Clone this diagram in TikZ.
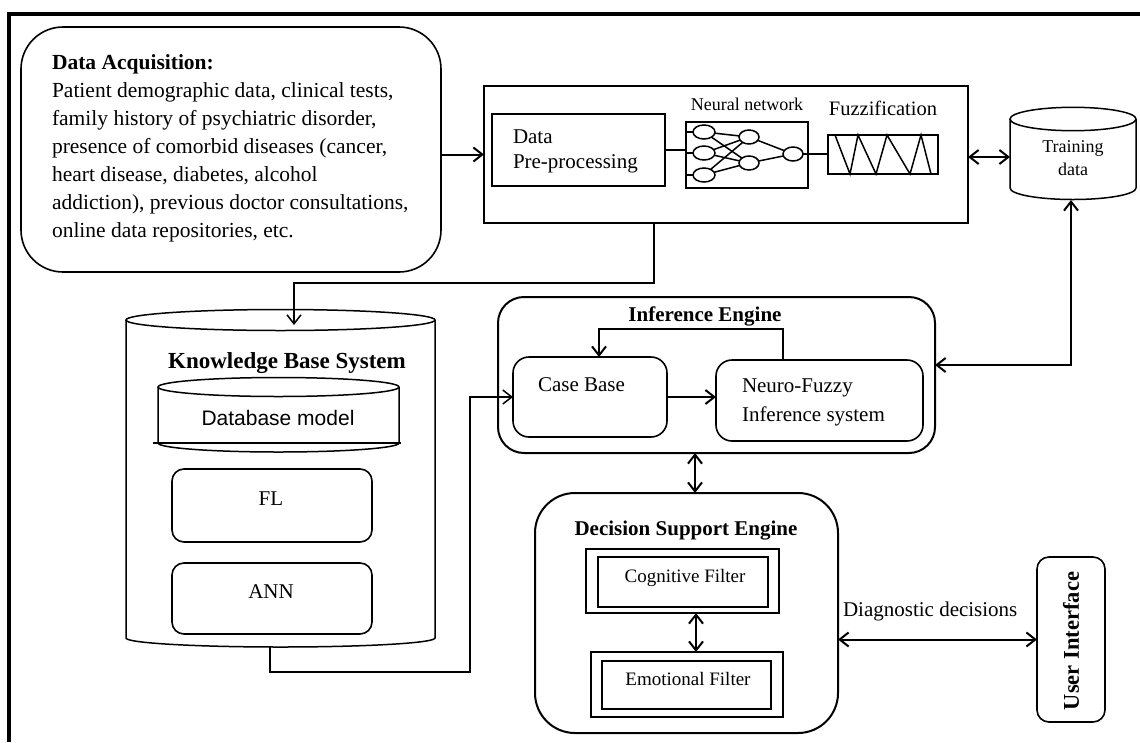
\documentclass[tikz,border=0pt]{standalone}
\usepackage{fontspec}
\setmainfont{Liberation Serif}
\setsansfont{Liberation Sans}
\usetikzlibrary{arrows.meta,shapes.geometric}

\begin{document}
\begin{tikzpicture}[x=1pt,y=-1pt,
  font=\fontsize{21}{28}\selectfont,
  >={Straight Barb[length=9pt,width=14pt]},
  every node/.style={inner sep=0pt,outer sep=0pt},
  box/.style={draw,line width=1.6pt,anchor=north west},
  rbox/.style={box,rounded corners=#1},
  hidden/.style={anchor=north west},
  neu/.style={draw,ellipse,line width=1.5pt,minimum width=21pt,minimum height=14pt},
  link/.style={line width=2pt},
  route/.style={line width=1.5pt},
  heading/.style={font=\bfseries\fontsize{21}{28}\selectfont,anchor=base},
]
\useasboundingbox (0,0) rectangle (1140,742);

% outer frame (top and left edges)
\draw[line width=3.2pt] (9,742) -- (9,14) -- (1140,14);

% ---------- data acquisition ----------
\node[rbox=42,minimum width=420pt,minimum height=245pt] (da) at (21,27) {};
\node[anchor=north west,align=left,font=\fontsize{21.5}{28}\selectfont] (datxt) at (52,54.5)
  {\textbf{Data Acquisition:}\\
   Patient demographic data, clinical tests,\\
   family history of psychiatric disorder,\\
   presence of comorbid diseases (cancer,\\
   heart disease, diabetes, alcohol\\
   addiction), previous doctor consultations,\\
   online data repositories, etc.};

% ---------- pre-processing block ----------
\node[box,minimum width=484pt,minimum height=137pt] (pp) at (484,86) {};
\node[box,minimum width=173pt,minimum height=72pt] (pre) at (492,114) {};
\node[anchor=north west,align=left,font=\fontsize{21}{25}\selectfont] (pretxt) at (513,130)
  {Data\\Pre-processing};

% neural network
\node[box,line width=2pt,minimum width=122pt,minimum height=66pt] (nn) at (686,122) {};
\node[anchor=base,font=\fontsize{18}{22}\selectfont] (nnlbl) at (747,110) {Neural network};
\node[neu,minimum width=22pt] (i1) at (704,132) {};
\node[neu,minimum width=22pt] (i2) at (704,153) {};
\node[neu,minimum width=22pt] (i3) at (704,175) {};
\node[neu,minimum width=20pt] (h1) at (749,137) {};
\node[neu,minimum width=20pt] (h2) at (749,163) {};
\node[neu,minimum width=20pt] (o) at (793,154) {};
\foreach \n in {i1,i2,i3} \draw[route] (nn.west |- \n) -- (\n);
\foreach \a in {i1,i2,i3} \foreach \b in {h1,h2} \draw[route] (\a) -- (\b);
\draw[route] (h1) -- (o);
\draw[route] (h2) -- (o);

% fuzzification
\node[box,minimum width=110pt,minimum height=39pt] (fz) at (828,135) {};
\node[anchor=base,font=\fontsize{20.5}{25}\selectfont] (fzlbl) at (883,115) {Fuzzification};
\draw[line width=1.5pt] (835,135) -- (850,174) -- (858,135) -- (876,174) -- (887,135)
  -- (910,174) -- (921,135) -- (931,174);

\draw[route] (pre.east) -- (pre.east -| nn.west);
\draw[route] (o) -- (o -| fz.west);

% ---------- training data store ----------
\node[hidden,minimum width=126pt,minimum height=86pt] (td) at (1010,114) {};
\draw[line width=1.5pt] (1010,119) -- (1010,188)
  arc[start angle=180,end angle=0,x radius=63,y radius=11.5] -- (1136,119);
\draw[line width=1.5pt] (1073,119) ellipse[x radius=63,y radius=11.7];
\node[anchor=north,align=center,font=\fontsize{18}{23}\selectfont] (tdtxt) at (1073,140.7)
  {Training\\data};

% ---------- knowledge base ----------
\node[hidden,minimum width=309pt,minimum height=322pt] (kb) at (126,325) {};
\draw[line width=1.5pt] (126,320) -- (126,638)
  arc[start angle=180,end angle=0,x radius=154.5,y radius=9] -- (435,320);
\draw[line width=1.5pt] (280.5,320) ellipse[x radius=154.5,y radius=10.5];
\node[heading,font=\bfseries\fontsize{23}{28}\selectfont] (kbtxt) at (287,368) {Knowledge Base System};

% database model
\draw[line width=1.5pt] (158,387) -- (158,443)
  arc[start angle=180,end angle=0,x radius=120.5,y radius=9] -- (399,387);
\draw[line width=1.5pt] (278.5,387) ellipse[x radius=120.5,y radius=9.5];
\draw[line width=1.5pt] (153,443) -- (401,443);
\node[anchor=base,font=\sffamily\fontsize{21}{25}\selectfont] (dbtxt) at (278,425) {Database model};

\node[rbox=12,minimum width=200pt,minimum height=73pt] (fl) at (172,469) {};
\node[anchor=base] (fltxt) at (271,505) {FL};
\node[rbox=12,minimum width=200pt,minimum height=71pt] (ann) at (172,563) {};
\node[anchor=base] (anntxt) at (271,598) {ANN};

% ---------- inference engine ----------
\node[rbox=26,line width=2pt,minimum width=437pt,minimum height=156pt] (ie) at (498,297) {};
\node[heading] (ietxt) at (705,321) {Inference Engine};
\node[rbox=16,minimum width=154pt,minimum height=80pt] (cb) at (513,357) {};
\node[anchor=base west] (cbtxt) at (538,391) {Case Base};
\node[rbox=16,minimum width=207pt,minimum height=81pt] (nf) at (716,360) {};
\node[anchor=north west,align=left,font=\fontsize{21}{29}\selectfont] (nftxt) at (742,379)
  {Neuro-Fuzzy\\Inference system};

% ---------- decision support engine ----------
\node[rbox=40,line width=2pt,minimum width=303pt,minimum height=240pt] (dse) at (535,493) {};
\node[heading] (dsetxt) at (686,535) {Decision Support Engine};
\node[box,minimum width=193pt,minimum height=64pt] (cog) at (586,549) {};
\node[box,minimum width=170pt,minimum height=50pt] (cogin) at (598,557) {};
\node[anchor=base,font=\fontsize{19}{23}\selectfont] (cogtxt) at (685,582) {Cognitive Filter};
\node[box,minimum width=192pt,minimum height=65pt] (emo) at (591,652) {};
\node[box,minimum width=169pt,minimum height=48pt] (emoin) at (602,661) {};
\node[anchor=base,font=\fontsize{19}{23}\selectfont] (emotxt) at (688,685) {Emotional Filter};

% ---------- user interface ----------
\node[rbox=12,minimum width=68pt,minimum height=165pt] (ui) at (1037,557) {};
\node[rotate=90,font=\bfseries\fontsize{22.5}{27}\selectfont] (uitxt) at (1071,641) {User Interface};
\node[anchor=base west] (dgtxt) at (843,616) {Diagnostic decisions};

% ---------- connectors ----------
\draw[link,->] (da.east |- pp.west) -- (pp.west);
\draw[link,<->] (pp.east |- td.west) -- (td.west);
\draw[link,<->] ([yshift=10pt]ie.east) -| ([xshift=-2pt]td.south);
\draw[route,->] ([xshift=-72pt]pp.south) |- ([xshift=13.5pt,yshift=42pt]kb.north)
  -- ([xshift=13.5pt]kb.north);
\draw[route,->] ([xshift=-10.5pt]kb.south) -- ++(0,25) -| ([xshift=-43pt]cb.west) -- (cb.west);
\draw[link,->] (cb.east) -- (cb.east -| nf.west);
\draw[link,->] ([xshift=-36.5pt]nf.north) |- ([xshift=9pt,yshift=28pt]cb.north)
  -- ([xshift=9pt]cb.north);
\draw[link,<->] ([xshift=-21.5pt]ie.south) -- ([xshift=-21.5pt]ie.south |- dse.north);
\draw[link,<->] ([xshift=13.5pt]cog.south) -- ([xshift=13.5pt]cog.south |- emo.north);
\draw[link,<->] (ui.west -| dse.east) -- (ui.west);
\end{tikzpicture}
\end{document}
